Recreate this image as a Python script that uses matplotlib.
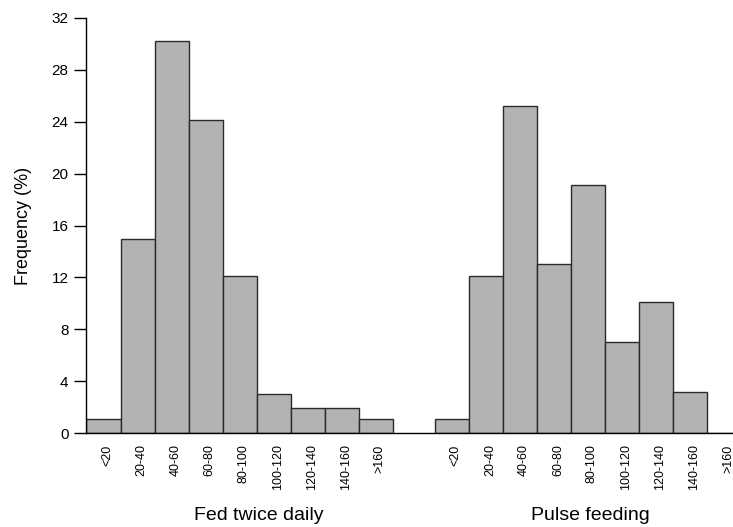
#!/usr/bin/env python3
# -*- coding: utf-8 -*-

import matplotlib
matplotlib.use('Agg')
import matplotlib.pyplot as plt

plt.rcParams['font.family'] = ['Liberation Sans', 'DejaVu Sans']

# size classes and frequencies (%)
size_classes = ['<20', '20-40', '40-60', '60-80', '80-100',
                '100-120', '120-140', '140-160', '>160']
fed_twice_daily = [1.1, 15.0, 30.2, 24.1, 12.1, 3.05, 1.95, 1.95, 1.1]
pulse_feeding = [1.1, 12.1, 25.25, 13.0, 19.1, 7.0, 10.1, 3.2, 0.0]
group_names = ['Fed twice daily', 'Pulse feeding']
y_ticks = [0, 4, 8, 12, 16, 20, 24, 28, 32]

# x positions: one unit per bar, second group starts after a gap
group_start = [0.0, 10.235]
bar_fill = '#b3b3b3'
bar_edge = '#2a2a2a'

fig = plt.figure(figsize=(7.33, 5.27), dpi=100)
ax = fig.add_axes([0.118, 0.178, 0.882, 0.788])

tick_pos = []
tick_lab = []
for start, values in zip(group_start, [fed_twice_daily, pulse_feeding]):
    xs = [start + i for i in range(len(values))]
    ax.bar(xs, values, width=1.0, align='edge', color=bar_fill,
           edgecolor=bar_edge, linewidth=1.0)
    tick_pos += [x + 0.62 for x in xs]
    tick_lab += size_classes

ax.set_xlim(0, 19.0)
ax.set_ylim(0, 32)
ax.set_yticks(y_ticks)
ax.set_xticks(tick_pos)
ax.set_xticklabels(tick_lab, rotation=90, fontsize=9, va='top', ha='center')
ax.tick_params(axis='x', length=0, pad=8)
ax.tick_params(axis='y', length=9, width=1, labelsize=11, pad=4)
ax.set_ylabel('Frequency (%)', fontsize=13, labelpad=14)

for s in ['top', 'right']:
    ax.spines[s].set_visible(False)
for s in ['left', 'bottom']:
    ax.spines[s].set_linewidth(1.0)

# group labels under the size classes
trans = ax.get_xaxis_transform()
ax.text(5.05, -0.198, group_names[0], transform=trans, fontsize=14,
        ha='center', va='center')
ax.text(14.8, -0.198, group_names[1], transform=trans, fontsize=14,
        ha='center', va='center')

plt.savefig('out.png', dpi=100)
